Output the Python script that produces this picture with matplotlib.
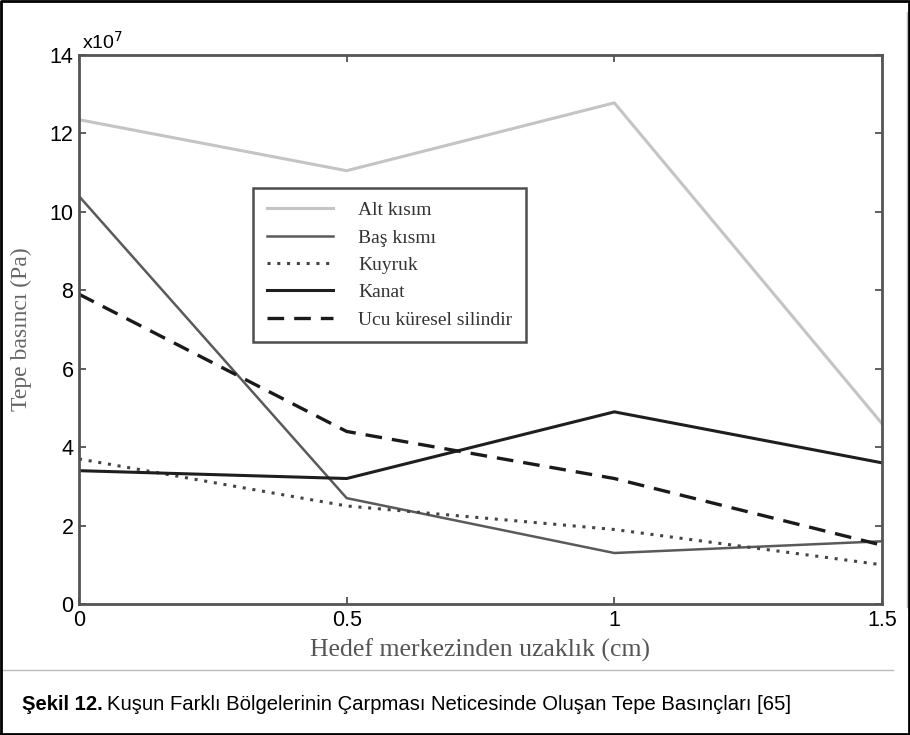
import matplotlib.pyplot as plt
from matplotlib.lines import Line2D

x = [0, 0.5, 1, 1.5]
alt_kisim = [12.35, 11.05, 12.78, 4.6]
bas_kismi = [10.4, 2.7, 1.3, 1.6]
kuyruk = [3.7, 2.5, 1.9, 1.0]
kanat = [3.4, 3.2, 4.9, 3.6]
ucu_kuresel = [7.9, 4.4, 3.2, 1.5]

labels = ['Alt kısım', 'Baş kısmı', 'Kuyruk', 'Kanat', 'Ucu küresel silindir']
xticks = [0, 0.5, 1, 1.5]
xticklabels = ['0', '0.5', '1', '1.5']
yticks = [0, 2, 4, 6, 8, 10, 12, 14]

W, H = 910, 735
fig = plt.figure(figsize=(W / 100, H / 100), dpi=100)
ax = fig.add_axes([79 / W, 1 - 604 / H, 803 / W, 549 / H])

ax.plot(x, alt_kisim, color='#c4c4c4', lw=2.2, label=labels[0])
ax.plot(x, bas_kismi, color='#5a5a5a', lw=1.8, label=labels[1])
ax.plot(x, kuyruk, color='#444444', lw=2.2, ls=(0, (1, 2.2)), label=labels[2])
ax.plot(x, kanat, color='#1e1e1e', lw=2.2, label=labels[3])
ax.plot(x, ucu_kuresel, color='#1a1a1a', lw=2.4, ls=(0, (5, 3)), label=labels[4])

ax.set_xlim(0, 1.5)
ax.set_ylim(0, 14)
ax.set_xticks(xticks)
ax.set_xticklabels(xticklabels)
ax.set_yticks(yticks)
ax.tick_params(direction='in', length=5, width=1.2, color='#444444',
               top=True, right=True, labelsize=15.5, pad=4)
for lab in ax.get_xticklabels() + ax.get_yticklabels():
    lab.set_family('Liberation Sans')
for sp in ax.spines.values():
    sp.set_linewidth(2.0)
    sp.set_color('#555555')

ax.set_xlabel('Hedef merkezinden uzaklık (cm)', family='Liberation Serif',
              fontsize=18.5, color='#555555', labelpad=6)
ax.set_ylabel('Tepe basıncı (Pa)', family='Liberation Serif',
              fontsize=17, color='#666666')
ax.yaxis.set_label_coords(-47 / 803, 0.5)
fig.text(82 / W, 1 - 42 / H, r'x10$^7$', family='Liberation Sans',
         fontsize=14, va='center', ha='left')

leg = ax.legend(loc='upper left', bbox_to_anchor=(253 / W, 1 - 188 / H),
                bbox_transform=fig.transFigure, prop={'family': 'Liberation Serif', 'size': 14},
                frameon=True, fancybox=False, borderpad=0.7, labelspacing=0.5,
                borderaxespad=0, handlelength=3.4, handletextpad=1.3)
leg.get_frame().set_edgecolor('#222222')
leg.get_frame().set_linewidth(1.8)
for t in leg.get_texts():
    t.set_color('#333333')

# scanned figure frame
fig.add_artist(Line2D([907 / W, 907 / W], [1 - 12 / H, 1 - 607 / H],
                      transform=fig.transFigure, color='#bbbbbb', lw=1))
fig.add_artist(Line2D([0, 893 / W], [1 - 670 / H, 1 - 670 / H],
                      transform=fig.transFigure, color='#bbbbbb', lw=1))
fig.add_artist(Line2D([0.001, 0.999, 0.999, 0.001, 0.001], [0.001, 0.001, 0.999, 0.999, 0.001],
                      transform=fig.transFigure, color='black', lw=2))

t1 = fig.text(22 / W, 1 - 705 / H, 'Şekil 12.', family='Liberation Sans',
              fontsize=14.6, fontweight='bold', va='center', ha='left')
fig.canvas.draw()
bb = t1.get_window_extent()
fig.text((bb.x1 + 4) / W, 1 - 705 / H,
         'Kuşun Farklı Bölgelerinin Çarpması Neticesinde Oluşan Tepe Basınçları [65]',
         family='Liberation Sans', fontsize=14.6, va='center', ha='left')

fig.savefig('out.png', dpi=100)
